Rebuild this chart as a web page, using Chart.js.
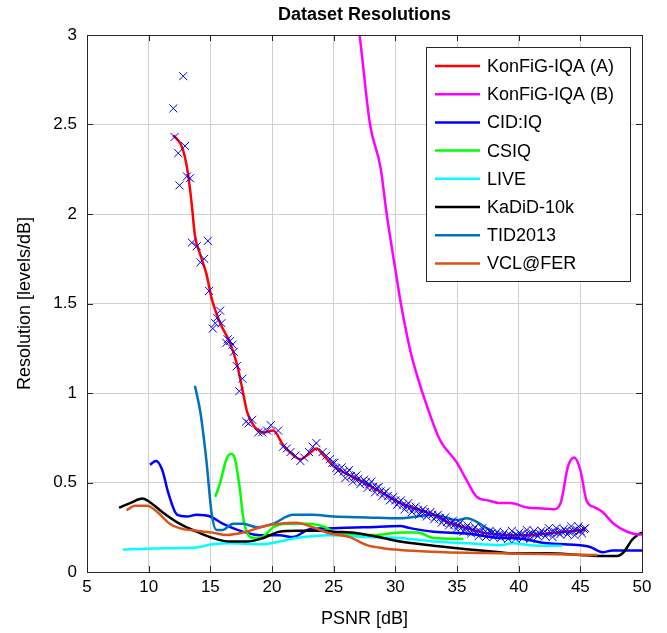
<!DOCTYPE html>
<html>
<head>
<meta charset="utf-8">
<title>Dataset Resolutions</title>
<script src="https://cdn.jsdelivr.net/npm/chart.js@4.4.1/dist/chart.umd.min.js"></script>
<style>
html,body{margin:0;padding:0;background:#fff;}
#wrap{width:667px;height:633px;}
</style>
</head>
<body>
<div id="wrap"><canvas id="resChart" width="667" height="633"></canvas></div>
<script>

// DATA

const xTicks=[5,10,15,20,25,30,35,40,45,50];
const yTicks=[0,0.5,1,1.5,2,2.5,3];

const konfigA_x=[12.0,12.6,12.9,13.2,13.5,13.75,14.2,14.7,15.1,15.8,16.6,17.2,17.6,18.0,18.6,19.3,20.1,20.9,21.6,22.3,23.0,23.6,24.2,25.0,26.3,27.7,29.0,30.4,31.8,33.1,34.4,35.8,37.1,38.5,40.0,41.5,43.0,44.5,45.4];
const konfigA_y=[2.44,2.39,2.33,2.22,2.05,1.88,1.77,1.66,1.53,1.39,1.28,1.15,1.02,0.89,0.81,0.78,0.79,0.71,0.66,0.63,0.66,0.69,0.65,0.59,0.54,0.49,0.44,0.385,0.35,0.32,0.275,0.245,0.22,0.21,0.205,0.21,0.22,0.23,0.235];

// measured points of KonFiG-IQA (A)
const konfigAPts_x=[12.0,12.8,12.1,12.95,12.4,13.1,13.35,12.5,13.5,13.9,14.8,14.2,14.5,14.9,15.8,15.4,15.2,15.9,15.55,16.3,16.6,16.8,16.4,16.9,17.15,17.6,17.35,17.9,18.4,18.1,18.9,19.2,19.9,19.6,20.5,20.9,21.2,21.5,21.9,22.3,22.6,23.0,23.3,23.6,24.1,24.4,24.7,
24.9,25.2,25.5,25.8,26.1,26.4,26.7,27.0,27.3,27.6,27.9,28.2,28.5,28.8,29.1,29.4,29.7,30.0,30.3,30.6,30.9,31.2,31.5,31.8,32.1,32.4,32.7,33.0,33.3,33.6,33.9,34.2,34.5,34.8,35.1,35.4,35.7,36.0,36.3,36.6,36.9,37.2,37.5,37.8,38.1,38.4,38.7,39.0,39.3,39.6,39.9,40.2,40.5,40.8,41.1,41.4,41.7,42.0,42.3,42.6,42.9,43.2,43.5,43.8,44.1,44.4,44.7,45.0,45.3,
25.05,25.35,25.65,25.95,26.25,26.55,26.85,27.15,27.45,27.75,28.05,28.35,28.65,28.95,29.25,29.55,29.85,30.15,30.45,30.75,31.05,31.35,31.65,31.95,32.25,32.55,32.85,33.15,33.45,33.75,34.05,34.35,34.65,34.95,35.25,35.55,35.85,36.15,36.45,36.75,37.05,37.35,37.65,37.95,38.25,38.55,38.85,39.15,39.45,39.75,40.05,40.35,40.65,40.95,41.25,41.55,41.85,42.15,42.45,42.75,43.05,43.35,43.65,43.95,44.25,44.55,44.85,45.15,45.4];
const konfigAPts_y=[2.59,2.77,2.43,2.38,2.34,2.21,2.20,2.16,1.84,1.82,1.85,1.73,1.75,1.57,1.46,1.39,1.36,1.39,1.42,1.28,1.29,1.27,1.30,1.23,1.15,1.08,1.01,0.84,0.85,0.83,0.78,0.78,0.82,0.79,0.79,0.70,0.69,0.67,0.65,0.62,0.64,0.67,0.70,0.72,0.67,0.65,0.63,
0.61,0.58,0.575,0.56,0.555,0.535,0.53,0.52,0.505,0.50,0.49,0.475,0.47,0.45,0.44,0.425,0.41,0.40,0.39,0.375,0.37,0.36,0.355,0.345,0.34,0.335,0.325,0.32,0.31,0.30,0.29,0.28,0.275,0.265,0.26,0.25,0.245,0.24,0.235,0.225,0.225,0.22,0.215,0.215,0.21,0.21,0.205,0.20,0.205,0.20,0.205,0.21,0.205,0.21,0.215,0.21,0.215,0.22,0.215,0.22,0.225,0.22,0.225,0.23,0.225,0.23,0.235,0.23,0.24,
0.61,0.565,0.585,0.525,0.57,0.505,0.54,0.49,0.515,0.47,0.505,0.445,0.475,0.425,0.45,0.40,0.42,0.375,0.40,0.35,0.385,0.335,0.365,0.32,0.35,0.31,0.335,0.295,0.32,0.275,0.305,0.26,0.285,0.24,0.275,0.225,0.26,0.215,0.25,0.20,0.245,0.195,0.23,0.195,0.225,0.19,0.22,0.185,0.23,0.185,0.22,0.19,0.235,0.185,0.23,0.20,0.23,0.20,0.245,0.195,0.245,0.21,0.24,0.21,0.255,0.205,0.255,0.215,0.245];

const konfigB_x=[26.9,27.1,27.95,28.8,29.3,30.0,30.5,31.2,31.75,32.6,33.6,35.0,35.8,36.6,37.5,38.5,39.3,40.7,42.0,42.8,43.4,44.0,44.5,45.0,45.5,46.2,46.8,47.7,48.8,49.7,50.0];
const konfigB_y=[3.1,3.0,2.5,2.26,2.0,1.69,1.48,1.24,1.10,0.92,0.74,0.61,0.51,0.42,0.40,0.385,0.385,0.36,0.355,0.35,0.385,0.59,0.64,0.57,0.40,0.36,0.335,0.27,0.225,0.21,0.21];

const cidiq_x=[10.1,10.6,11.1,11.6,12.3,13.1,13.9,15.0,16.0,17.2,18.5,19.6,20.6,21.7,23.1,25.0,27.7,30.4,31.2,33.1,35.8,38.5,39.5,42.3,45.0,45.8,46.8,47.6,48.5,50.0];
const cidiq_y=[0.60,0.62,0.57,0.44,0.32,0.31,0.32,0.31,0.27,0.235,0.21,0.205,0.205,0.195,0.24,0.245,0.25,0.257,0.245,0.225,0.215,0.19,0.19,0.16,0.15,0.14,0.11,0.12,0.12,0.12];

const csiq_x=[15.4,15.8,16.3,16.7,17.0,17.4,17.65,18.05,18.5,19.2,20.1,21.2,22.8,24.5,25.0,27.7,29.0,30.4,31.8,33.1,35.5];
const csiq_y=[0.42,0.50,0.63,0.66,0.63,0.46,0.31,0.21,0.19,0.195,0.25,0.27,0.27,0.245,0.22,0.207,0.21,0.22,0.22,0.19,0.185];

const live_x=[7.9,9.9,11.5,13.6,15.2,16.6,18.0,19.3,20.6,22.0,24.7,27.7,30.4,33.1,35.8,38.5,39.5,40.9,43.5];
const live_y=[0.125,0.13,0.133,0.135,0.155,0.16,0.158,0.155,0.17,0.19,0.205,0.195,0.19,0.17,0.16,0.15,0.16,0.15,0.145];

const kadid_x=[7.6,8.5,9.5,10.1,11.2,12.5,13.9,15.2,16.6,17.9,19.3,20.6,22.0,23.9,25.0,26.9,29.0,30.4,33.1,35.8,38.5,39.5,42.3,45.0,46.4,48.0,48.5,49.2,49.7,50.0];
const kadid_y=[0.36,0.385,0.41,0.39,0.33,0.27,0.225,0.19,0.17,0.17,0.19,0.225,0.23,0.23,0.225,0.217,0.19,0.17,0.147,0.127,0.11,0.105,0.105,0.095,0.09,0.09,0.11,0.18,0.21,0.22];

const tid_x=[13.75,14.2,14.7,15.1,15.5,16.0,16.85,17.65,18.8,20.1,21.7,23.3,25.0,27.7,30.4,33.1,35.0,35.8,36.6,37.4,38.0];
const tid_y=[1.04,0.89,0.61,0.33,0.235,0.235,0.27,0.27,0.25,0.27,0.32,0.32,0.31,0.305,0.30,0.32,0.29,0.30,0.28,0.245,0.225];

const vcl_x=[8.2,8.9,9.9,10.7,11.7,12.5,13.9,15.2,16.3,17.9,19.6,20.6,22.0,23.3,24.7,26.3,27.7,29.0,30.4,33.1,35.8,38.5,42.0,46.4];
const vcl_y=[0.345,0.37,0.37,0.335,0.27,0.245,0.23,0.22,0.207,0.225,0.26,0.27,0.275,0.25,0.215,0.195,0.15,0.133,0.123,0.113,0.107,0.105,0.1,0.095];

const FONT="'Liberation Sans', Arial, Helvetica, sans-serif";

function pts(xs,ys){
return xs.map((x,i)=>({x:x,y:ys[i]}));
}

function line(label,xs,ys,color,order){
return {
label:label,
data:pts(xs,ys),
borderColor:color,
backgroundColor:color,
borderWidth:2.5,
pointRadius:0,
fill:false,
cubicInterpolationMode:"monotone",
order:order,
inLegend:true
};
}

// FRAME, TICKS AND LEGEND

const framePlugin={
id:"frame",
afterDatasetsDraw(chart){
const ctx=chart.ctx;
const a=chart.chartArea;
const xs=chart.scales.x, ys=chart.scales.y;
ctx.save();
ctx.strokeStyle="#262626";
ctx.lineWidth=1;
ctx.beginPath();
xTicks.forEach(v=>{
const px=Math.round(xs.getPixelForValue(v))+0.5;
ctx.moveTo(px,a.bottom);ctx.lineTo(px,a.bottom-6);
ctx.moveTo(px,a.top);ctx.lineTo(px,a.top+6);
});
yTicks.forEach(v=>{
const py=Math.round(ys.getPixelForValue(v))+0.5;
ctx.moveTo(a.left,py);ctx.lineTo(a.left+6,py);
ctx.moveTo(a.right,py);ctx.lineTo(a.right-6,py);
});
ctx.stroke();
ctx.strokeRect(Math.round(a.left)+0.5,Math.round(a.top)+0.5,Math.round(a.right-a.left),Math.round(a.bottom-a.top));
ctx.restore();
},
afterDraw(chart){
const ctx=chart.ctx;
const items=chart.data.datasets.filter(d=>d.inLegend);
const bx=426.5, by=47.5, bw=204, bh=234;
ctx.save();
ctx.fillStyle="#fff";
ctx.fillRect(bx,by,bw,bh);
ctx.strokeStyle="#262626";
ctx.lineWidth=1;
ctx.strokeRect(bx,by,bw,bh);
ctx.font="18px "+FONT;
ctx.textBaseline="middle";
ctx.textAlign="left";
items.forEach((d,i)=>{
const y=66+i*28.2;
ctx.strokeStyle=d.borderColor;
ctx.lineWidth=2.5;
ctx.beginPath();
ctx.moveTo(435,y);ctx.lineTo(480,y);
ctx.stroke();
ctx.fillStyle="#000";
ctx.fillText(d.label,487,y+1);
});
ctx.restore();
}
};

// RESOLUTION CHART

const resChart=document.getElementById("resChart");

if(resChart){

new Chart(resChart,{

type:"line",

data:{

datasets:[
{
label:"KonFiG-IQA (A) points",
data:pts(konfigAPts_x,konfigAPts_y),
showLine:false,
pointStyle:"crossRot",
pointRadius:5.7,
pointBorderWidth:1,
borderColor:"#0000ff",
backgroundColor:"#0000ff",
order:0
},
line("KonFiG-IQA (A)",konfigA_x,konfigA_y,"#ff0000",1),
line("KonFiG-IQA (B)",konfigB_x,konfigB_y,"#ff00ff",2),
line("CID:IQ",cidiq_x,cidiq_y,"#0000ff",9),
line("CSIQ",csiq_x,csiq_y,"#00ff00",8),
line("LIVE",live_x,live_y,"#00ffff",7),
line("KaDiD-10k",kadid_x,kadid_y,"#000000",6),
line("TID2013",tid_x,tid_y,"#0072bd",5),
line("VCL@FER",vcl_x,vcl_y,"#d95319",4)
]

},

options:{

responsive:false,
animation:false,
layout:{padding:{left:0,right:25,top:0,bottom:0}},

plugins:{
legend:{display:false},
tooltip:{enabled:false},
title:{
display:true,
text:"Dataset Resolutions",
fullSize:false,
color:"#000",
font:{family:FONT,size:18,weight:"bold"},
padding:{top:4.2,bottom:9.2}
}
},

scales:{
x:{
type:"linear",
min:5,max:50,
afterBuildTicks(s){s.ticks=xTicks.map(v=>({value:v}));},
afterFit(s){s.height=61;},
grid:{color:"#d0d0d0",drawTicks:false},
border:{display:false},
ticks:{color:"#000",padding:5,maxRotation:0,font:{family:FONT,size:17},callback:v=>String(v)},
title:{display:true,text:"PSNR [dB]",color:"#000",font:{family:FONT,size:18},padding:{top:0,bottom:3.2}}
},
y:{
type:"linear",
min:0,max:3,
afterBuildTicks(s){s.ticks=yTicks.map(v=>({value:v}));},
afterFit(s){s.width=87;},
grid:{color:"#d0d0d0",drawTicks:false},
border:{display:false},
ticks:{color:"#000",padding:10,font:{family:FONT,size:17},callback:v=>String(v)},
title:{display:true,text:"Resolution [levels/dB]",color:"#000",font:{family:FONT,size:18},padding:{top:14.2,bottom:0}}
}
}

},

plugins:[framePlugin]

});

}
</script>
</body>
</html>
